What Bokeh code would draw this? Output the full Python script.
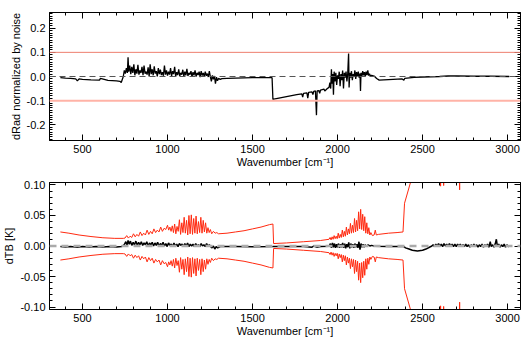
from bokeh.plotting import figure
from bokeh.layouts import column
from bokeh.models import (Range1d, LinearAxis, SingleIntervalTicker, PrintfTickFormatter,
                          CustomJSTickFormatter, Span)
from bokeh.embed import file_html
from bokeh.resources import INLINE

# ---------------- data ----------------
# top panel: radiance difference normalized by noise
wn_rad = [370, 400, 430, 460, 470, 480, 500, 550, 600, 605, 650, 700, 720, 728,
          740, 746, 752, 758, 764, 768, 772, 778, 784, 790, 796, 802, 808, 814, 820, 826,
          832, 838, 844, 850, 856, 862, 868, 874, 880, 886, 892, 898, 904, 910, 916, 922,
          928, 934, 940, 946, 952, 958, 964, 970, 976, 982, 988, 994, 1000, 1006, 1012,
          1018, 1024, 1030, 1036, 1042, 1048, 1054, 1060, 1066, 1072, 1078, 1084, 1090,
          1096, 1102, 1108, 1114, 1120, 1126, 1132, 1138, 1144, 1150, 1156, 1162, 1168,
          1174, 1180, 1186, 1192, 1198, 1204, 1210, 1216, 1222, 1228, 1234, 1240, 1246,
          1252, 1258, 1264, 1270, 1276, 1282, 1288, 1294, 1300, 1310, 1320,
          1350, 1400, 1450, 1500, 1550, 1615, 1620, 1625, 1700, 1760, 1790,
          1795, 1800, 1820, 1825, 1830, 1850, 1855, 1860, 1870, 1876, 1880, 1890, 1895,
          1900, 1920, 1925, 1940,
          1950, 1955, 1960, 1964, 1968, 1972, 1976, 1980, 1985, 1990, 1995, 2000, 2005,
          2010, 2015, 2020, 2025, 2030, 2035, 2040, 2045, 2050, 2055, 2060, 2065, 2068,
          2072, 2077, 2082, 2087, 2092, 2097, 2102, 2107, 2112, 2117, 2122, 2127, 2132,
          2135, 2138, 2143, 2148, 2153, 2158, 2163, 2168, 2173, 2178, 2183, 2188, 2193,
          2200, 2215, 2230, 2245, 2300, 2380, 2390, 2395, 2450, 2500, 2600, 2650, 2700,
          2800, 2900, 3010]
drad = [-0.005, -0.007, -0.008, -0.010, -0.018, -0.010, -0.012, -0.014, -0.015, -0.008,
        -0.016, -0.018, -0.020, -0.025,
        0.000, 0.025, 0.012, 0.035, 0.015, 0.080, 0.020, 0.045, 0.010, 0.040, 0.015, 0.050,
        0.005, 0.030, 0.012, 0.048, 0.008, 0.025, 0.015, 0.040, 0.005, 0.045, 0.012, 0.020,
        0.008, 0.038, 0.000, 0.050, 0.010, 0.030, 0.005, 0.042, 0.012, 0.022, 0.000, 0.035,
        0.010, 0.028, 0.006, 0.018, 0.003, 0.045, 0.008, 0.025, 0.004, 0.020, 0.008, 0.035,
        0.002, 0.022, 0.010, 0.040, 0.000, 0.018, 0.006, 0.030, 0.002, 0.015, 0.008, 0.028,
        0.000, 0.020, 0.005, 0.032, 0.002, 0.015, 0.008, 0.022, -0.002, 0.018, 0.005, 0.025,
        0.000, 0.015, 0.006, 0.020, -0.003, 0.022, 0.004, 0.015, 0.000, 0.020, 0.003, 0.012,
        -0.002, 0.022, 0.000, -0.020, 0.005, -0.012, 0.002, -0.030, -0.003, -0.018, -0.008,
        -0.012, -0.009,
        -0.008, -0.007, -0.006, -0.005, -0.005, -0.005, -0.095, -0.094, -0.083, -0.075,
        -0.072, -0.085, -0.070, -0.068, -0.090, -0.066, -0.064, -0.075, -0.062, -0.060,
        -0.160, -0.060, -0.058, -0.070, -0.056, -0.052, -0.060, -0.050,
        -0.045, -0.025, -0.050, 0.030, -0.030, 0.010, -0.075, 0.020, -0.020, 0.015, -0.035,
        0.005, -0.010, 0.020, -0.040, 0.010, -0.015, 0.025, -0.050, 0.015, -0.005, 0.020,
        -0.020, 0.012, 0.095, -0.045, 0.015, -0.005, 0.022, -0.015, 0.010, 0.000, 0.025,
        -0.010, 0.018, 0.000, 0.020, -0.005, 0.012, -0.060, 0.015, 0.002, 0.022, 0.005,
        0.018, 0.000, 0.020, 0.006, 0.025, 0.004, 0.012, 0.002, 0.005, 0.002, -0.008,
        -0.015, -0.013, -0.010, -0.015, -0.008, -0.004, -0.002, 0.000, 0.002, 0.002, 0.001,
        0.001, 0.000]
rad_limits = [0.1, -0.1]

# bottom panel: brightness temperature difference and its envelope
wn_tb = [370, 400, 430, 470, 500, 540, 580, 620, 660, 700, 730, 745, 755, 762, 768, 775,
         782, 790, 798, 806, 814, 822, 830, 838, 846, 854, 862, 870, 878, 886, 894, 902,
         910, 918, 926, 934, 942, 950, 958, 966, 974, 982, 990, 998, 1006, 1014, 1022,
         1030, 1038, 1046, 1054, 1062, 1070, 1078, 1086, 1094, 1102, 1110, 1118, 1126,
         1134, 1142, 1150, 1158, 1166, 1174, 1182, 1190, 1198, 1206, 1214, 1222, 1230,
         1238, 1246, 1254, 1262, 1270, 1278, 1286, 1295, 1310, 1400, 1500, 1620, 1630,
         1700, 1800, 1850, 1860, 1880, 1900, 1950, 1958, 1964, 1970, 1976, 1982, 1988,
         1994, 2000, 2006, 2012, 2018, 2024, 2030, 2036, 2042, 2048, 2054, 2060, 2066,
         2072, 2078, 2084, 2090, 2096, 2102, 2108, 2114, 2120, 2126, 2132, 2138, 2144,
         2150, 2156, 2162, 2170, 2180, 2190, 2200, 2220, 2300, 2390, 2400, 2420, 2440,
         2470, 2500, 2520, 2540, 2555, 2562, 2570, 2578, 2586, 2594, 2602, 2610, 2618,
         2626, 2634, 2642, 2650, 2658, 2666, 2674, 2682, 2690, 2698, 2706, 2714, 2722,
         2730, 2738, 2746, 2754, 2762, 2770, 2778, 2786, 2794, 2802, 2810, 2818, 2826,
         2834, 2842, 2850, 2858, 2866, 2874, 2882, 2890, 2898, 2904, 2912, 2920, 2928,
         2934, 2940, 2948, 2956, 2964, 2972, 2980, 2988, 2996, 3004, 3010]
dtb = [-0.001, -0.0015, -0.001, -0.002, -0.001, -0.0015, -0.001, -0.0015, -0.001, -0.0015,
       -0.001, 0.002, 0.007, 0.001, 0.009, 0.003, 0.008, 0.001, 0.006, 0.002, 0.008, 0.001,
       0.006, 0.002, 0.007, 0.001, 0.005, 0.002, 0.007, 0.000, 0.005, 0.002, 0.006, 0.000,
       0.005, 0.001, 0.006, 0.000, 0.004, 0.001, 0.006, 0.000, 0.004, -0.001, 0.005, 0.001,
       0.003, -0.001, 0.005, 0.000, 0.003, -0.001, 0.004, 0.001, 0.003, -0.001, 0.004, 0.000,
       0.005, -0.001, 0.003, 0.000, 0.003, -0.001, 0.004, 0.000, 0.002, -0.001, 0.004, 0.000,
       0.002, -0.001, 0.004, 0.000, 0.002, -0.001, -0.003, 0.000, -0.005, -0.001, -0.003,
       -0.001, -0.001, -0.0012, -0.001, -0.0008, -0.0008, -0.001, -0.002, 0.000, -0.002,
       -0.001, -0.0005, 0.004, -0.003, 0.005, -0.002, 0.004, -0.003, 0.003, -0.002, 0.004,
       -0.003, 0.003, -0.002, 0.005, -0.003, 0.004, -0.004, 0.003, -0.002, 0.006, -0.004,
       0.004, -0.002, 0.003, -0.003, 0.004, -0.002, 0.003, -0.003, 0.007, -0.006, 0.004,
       -0.002, 0.003, -0.002, 0.002, -0.001, 0.002, 0.000, 0.001, -0.0005, -0.001, -0.001,
       -0.003, -0.005, -0.007, -0.008, -0.007, -0.005, -0.002, 0.000, 0.002, -0.001, 0.003,
       0.000, 0.004, 0.000, 0.003, -0.001, 0.004, 0.000, 0.003, -0.001, 0.004, 0.000, 0.003,
       -0.001, 0.003, -0.001, 0.003, 0.000, 0.003, -0.001, 0.002, -0.001, 0.003, -0.001,
       0.002, -0.002, 0.002, -0.001, 0.003, -0.001, 0.002, -0.002, 0.002, -0.001, 0.003,
       -0.002, 0.002, -0.001, 0.003, -0.002, 0.007, -0.001, 0.002, -0.002, 0.004, 0.011,
       0.000, 0.003, -0.002, 0.002, -0.001, 0.003, -0.002, 0.002, -0.001, 0.000]

wn_env = [370, 420, 480, 550, 620, 690, 740, 750, 760, 770, 780, 790, 800, 810, 820, 830,
          840, 850, 860, 870, 880, 890, 900, 910, 920, 930, 940, 950, 960, 970, 980, 990,
          1000, 1007, 1014, 1021, 1028, 1035, 1042, 1049, 1056, 1063, 1070, 1077, 1084,
          1091, 1098, 1105, 1112, 1119, 1126, 1133, 1140, 1147, 1154, 1161, 1168, 1175,
          1182, 1189, 1196, 1203, 1210, 1217, 1224, 1231, 1238, 1245, 1252, 1260, 1270,
          1280, 1290, 1300, 1350, 1400, 1450, 1500, 1550, 1600, 1620, 1624, 1700, 1800,
          1900, 1950, 1956, 1962, 1968, 1974, 1980, 1986, 1992, 1998, 2004, 2010, 2016,
          2022, 2028, 2034, 2040, 2046, 2052, 2058, 2064, 2070, 2076, 2082, 2088, 2094,
          2100, 2106, 2112, 2118, 2124, 2130, 2136, 2142, 2148, 2154, 2160, 2166, 2172,
          2178, 2184, 2190, 2196, 2205, 2215, 2222, 2228, 2240, 2300, 2350, 2385, 2394,
          2430, 2470, 2520, 2600, 2606, 2612, 2618, 2624, 2630, 2712, 2718, 2724, 3010]
env = [0.023, 0.021, 0.018, 0.0155, 0.0135, 0.0125, 0.0125, 0.013, 0.017, 0.013, 0.016,
       0.014, 0.020, 0.015, 0.019, 0.016, 0.023, 0.017, 0.021, 0.018, 0.026, 0.019, 0.024,
       0.020, 0.028, 0.022, 0.026, 0.023, 0.031, 0.024, 0.029, 0.027, 0.034, 0.026, 0.031,
       0.024, 0.033, 0.022, 0.036, 0.020, 0.032, 0.024, 0.043, 0.019, 0.038, 0.022, 0.047,
       0.021, 0.042, 0.018, 0.050, 0.020, 0.051, 0.019, 0.045, 0.021, 0.049, 0.020, 0.040,
       0.022, 0.047, 0.021, 0.042, 0.023, 0.038, 0.021, 0.030, 0.022, 0.027, 0.020, 0.024,
       0.021, 0.022, 0.020, 0.021, 0.023, 0.025, 0.028, 0.031, 0.035, 0.036, 0.004, 0.005,
       0.007, 0.009, 0.011, 0.014, 0.010, 0.015, 0.011, 0.017, 0.012, 0.016, 0.012, 0.021,
       0.013, 0.019, 0.014, 0.026, 0.015, 0.024, 0.016, 0.031, 0.018, 0.028, 0.020, 0.037,
       0.021, 0.034, 0.022, 0.045, 0.023, 0.042, 0.025, 0.056, 0.028, 0.060, 0.027, 0.052,
       0.025, 0.048, 0.021, 0.038, 0.020, 0.030, 0.018, 0.022, 0.017, 0.018, 0.026, 0.018,
       0.019, 0.021, 0.022, 0.023, 0.070, 0.105, 0.160, 0.300, 0.300, 0.098, 0.300, 0.300,
       0.099, 0.300, 0.300, 0.092, 0.300, 0.300]
env_low = [-v for v in env]

x_range = (306, 3076)
rad_range = (-0.265, 0.265)
tb_range = (-0.104, 0.104)

FONT = "Liberation Sans"
FS = "11px"


def style_axis(ax, labels, ticker, fmt=None):
    ax.ticker = ticker
    ax.axis_line_color = "black"
    ax.major_tick_line_color = "black"
    ax.minor_tick_line_color = "black"
    ax.major_tick_in = 6
    ax.major_tick_out = 0
    ax.minor_tick_in = 3
    ax.minor_tick_out = 0
    ax.major_label_text_font = FONT
    ax.major_label_text_font_size = FS
    ax.major_label_text_color = "black"
    ax.axis_label_text_font = FONT
    ax.axis_label_text_font_size = FS
    ax.axis_label_text_font_style = "normal"
    ax.axis_label_text_color = "black"
    ax.major_label_standoff = 4
    if labels:
        if fmt is not None:
            ax.formatter = fmt
    else:
        ax.formatter = CustomJSTickFormatter(code="return ''")
        ax.major_label_standoff = 0


def make_panel(height, top_b, bot_b, yrng, ytick, ynminor, yfmt, ylabel):
    p = figure(width=529, height=height, output_backend="svg", toolbar_location=None,
               x_range=Range1d(*x_range), y_range=Range1d(*yrng),
               min_border_left=49, min_border_right=9, min_border_top=top_b,
               min_border_bottom=bot_b)
    p.xgrid.visible = False
    p.ygrid.visible = False
    p.outline_line_color = "black"
    p.background_fill_color = "white"
    p.border_fill_color = "white"
    style_axis(p.xaxis[0], True, SingleIntervalTicker(interval=500, num_minor_ticks=5),
               PrintfTickFormatter(format="%d"))
    p.xaxis[0].axis_label = "Wavenumber [cm\u207b\u00b9]"
    p.xaxis[0].axis_label_standoff = 0
    style_axis(p.yaxis[0], True, SingleIntervalTicker(interval=ytick, num_minor_ticks=ynminor),
               PrintfTickFormatter(format=yfmt))
    p.yaxis[0].axis_label = ylabel
    p.yaxis[0].axis_label_standoff = 2
    ax_top = LinearAxis()
    style_axis(ax_top, False, SingleIntervalTicker(interval=500, num_minor_ticks=5))
    p.add_layout(ax_top, "above")
    ax_right = LinearAxis()
    style_axis(ax_right, False, SingleIntervalTicker(interval=ytick, num_minor_ticks=ynminor))
    p.add_layout(ax_right, "right")
    return p


p1 = make_panel(171, 12, 31, rad_range, 0.1, 10, "%.1f", "dRad normalized by noise")
p1.add_layout(Span(location=rad_limits[0], dimension="width", line_color="#ee7f6e", line_width=1))
p1.add_layout(Span(location=rad_limits[1], dimension="width", line_color="#ffb3a7", line_width=2))
p1.add_layout(Span(location=0, dimension="width", line_color="#555555", line_width=1,
                   line_dash="6 4"))
p1.line(wn_rad, drad, line_color="black", line_width=1.3)

p2 = make_panel(171, 11, 33, tb_range, 0.05, 5, "%.2f", "dTB [K]")
p2.add_layout(Span(location=0, dimension="width", line_color="#aaaaaa", line_width=2.5,
                   line_dash="7 5"))
p2.line(wn_env, env, line_color="#ff2a10", line_width=1)
p2.line(wn_env, env_low, line_color="#ff2a10", line_width=1)
p2.line(wn_tb, dtb, line_color="black", line_width=1.5)

layout = column(p1, p2, spacing=0)
open("out.html", "w").write(file_html(layout, INLINE))
